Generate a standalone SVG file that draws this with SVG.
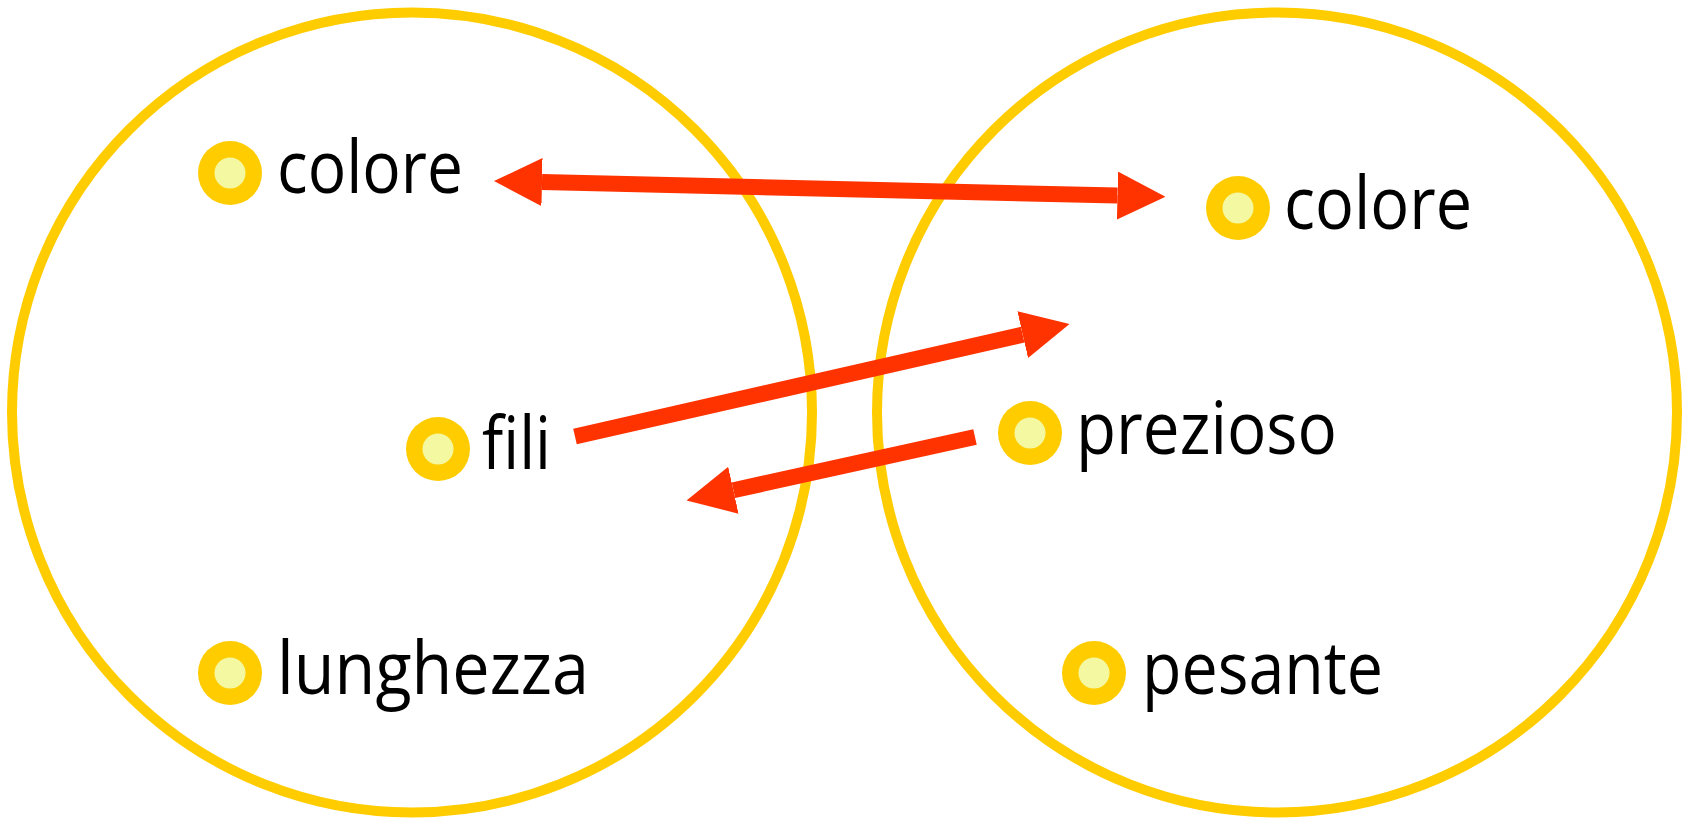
<svg xmlns="http://www.w3.org/2000/svg" width="1691" height="822" viewBox="0 0 1691 822">
<style>
.set{fill:none;stroke:#FFCC00;stroke-width:10}
.dot-o{fill:#FFCC00}
.dot-i{fill:#F4F8A0}
.lbl{font-family:"Open Sans","Noto Sans",sans-serif;font-size:73px;fill:#000}
.arr{stroke:#FF3300;stroke-width:16;fill:none}
</style>
<defs>
<marker id="head" markerUnits="userSpaceOnUse" viewBox="0 0 48 48" markerWidth="48" markerHeight="48" refX="0" refY="24" orient="auto-start-reverse">
<path d="M0,0 L48,24 L0,48 Z" fill="#FF3300"/>
</marker>
</defs>
<rect width="1691" height="822" fill="#fff"/>
<g id="set-left"><circle class="set" cx="412" cy="412.5" r="400"/></g>
<g id="set-right"><circle class="set" cx="1277" cy="412.5" r="400"/></g>
<g id="node-colore-left"><circle class="dot-o" cx="230" cy="173" r="32"/><circle class="dot-i" cx="230" cy="173" r="15.5"/><text class="lbl" x="277" y="193" textLength="186" lengthAdjust="spacingAndGlyphs">colore</text></g>
<g id="node-fili"><circle class="dot-o" cx="438" cy="449" r="32"/><circle class="dot-i" cx="438" cy="449" r="15.5"/><text class="lbl" x="482" y="469" textLength="69" lengthAdjust="spacingAndGlyphs">fili</text></g>
<g id="node-lunghezza"><circle class="dot-o" cx="230" cy="673" r="32"/><circle class="dot-i" cx="230" cy="673" r="15.5"/><text class="lbl" x="277" y="694" textLength="312" lengthAdjust="spacingAndGlyphs">lunghezza</text></g>
<g id="node-colore-right"><circle class="dot-o" cx="1238" cy="208" r="32"/><circle class="dot-i" cx="1238" cy="208" r="15.5"/><text class="lbl" x="1284" y="229" textLength="188" lengthAdjust="spacingAndGlyphs">colore</text></g>
<g id="node-prezioso"><circle class="dot-o" cx="1030" cy="433" r="32"/><circle class="dot-i" cx="1030" cy="433" r="15.5"/><text class="lbl" x="1076" y="454" textLength="261" lengthAdjust="spacingAndGlyphs">prezioso</text></g>
<g id="node-pesante"><circle class="dot-o" cx="1094" cy="673" r="32"/><circle class="dot-i" cx="1094" cy="673" r="15.5"/><text class="lbl" x="1142" y="694" textLength="241" lengthAdjust="spacingAndGlyphs">pesante</text></g>
<g id="connectors">
<path class="arr" d="M542,182.1 L1117.5,195.6" marker-start="url(#head)" marker-end="url(#head)"/>
<path class="arr" d="M575,436.5 L1022.7,334.65" marker-end="url(#head)"/>
<path class="arr" d="M975,437 L733.4,490.2" marker-end="url(#head)"/>
</g>
</svg>
